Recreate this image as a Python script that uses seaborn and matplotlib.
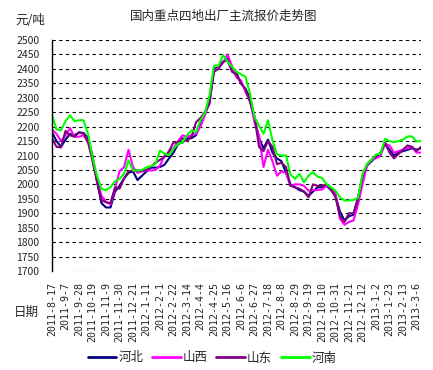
import matplotlib
matplotlib.use("Agg")
import matplotlib.pyplot as plt
import seaborn as sns
import pandas as pd
import numpy as np

# ---------------- data ----------------
series_names = ["河北", "山西", "山东", "河南"]
series_colors = ["#000080", "#FF00FF", "#800080", "#00FF00"]

hebei = [2180, 2150, 2130, 2155, 2175, 2170, 2180, 2178, 2160, 2100, 2010, 1935, 1920, 1920, 1975, 1995, 2020, 2040, 2045, 2015, 2030,
         2045, 2058, 2058, 2060, 2068, 2090, 2110, 2140, 2145, 2160, 2160, 2170, 2210, 2245, 2280, 2400, 2405, 2425, 2435, 2400, 2385, 2350,
         2330, 2300, 2230, 2160, 2125, 2155, 2110, 2090, 2080, 2040, 2000, 1990, 1980, 1975, 1960, 1975, 1990, 1990, 1995, 1980, 1960,
         1905, 1875, 1890, 1895, 1955, 2020, 2065, 2080, 2095, 2110, 2140, 2120, 2100, 2110, 2115, 2120, 2125, 2120, 2125]
shanxi = [2190, 2175, 2150, 2170, 2195, 2165, 2165, 2170, 2145, 2090, 2015, 1960, 1940, 1930, 1985, 2045, 2060, 2120, 2060, 2040, 2045,
          2048, 2048, 2050, 2065, 2100, 2110, 2125, 2150, 2170, 2165, 2170, 2175, 2200, 2240, 2290, 2390, 2405, 2420, 2450, 2410, 2370, 2360,
          2320, 2290, 2215, 2170, 2060, 2120, 2080, 2030, 2045, 2040, 1995, 2000, 2000, 1995, 1978, 1980, 1980, 1982, 1995, 1985, 1970,
          1880, 1860, 1870, 1875, 1930, 2000, 2065, 2085, 2090, 2100, 2140, 2135, 2110, 2115, 2120, 2125, 2130, 2110, 2110]
shandong = [2160, 2130, 2128, 2185, 2170, 2165, 2180, 2175, 2150, 2080, 2010, 1945, 1938, 1935, 1990, 1985, 2020, 2045, 2048, 2048, 2048,
            2050, 2062, 2075, 2085, 2095, 2115, 2145, 2145, 2160, 2150, 2165, 2215, 2230, 2250, 2290, 2390, 2400, 2425, 2430, 2390, 2380, 2350,
            2330, 2285, 2235, 2130, 2115, 2150, 2130, 2070, 2075, 2060, 1995, 1990, 1985, 1975, 1955, 2000, 1995, 1995, 2000, 1985, 1955,
            1890, 1870, 1900, 1900, 1950, 2030, 2070, 2085, 2100, 2105, 2145, 2110, 2090, 2105, 2120, 2135, 2130, 2115, 2130]
henan = [2240, 2190, 2187, 2219, 2239, 2219, 2222, 2222, 2175, 2094, 2030, 1984, 1980, 1990, 2011, 2019, 2036, 2083, 2048, 2048, 2050,
         2059, 2063, 2071, 2117, 2106, 2102, 2123, 2141, 2146, 2170, 2187, 2181, 2222, 2248, 2309, 2411, 2411, 2448, 2425, 2407, 2390, 2381,
         2373, 2314, 2233, 2204, 2175, 2222, 2152, 2104, 2100, 2100, 2034, 2019, 2036, 2007, 2030, 2042, 2027, 2022, 2001, 1990, 1978,
         1955, 1944, 1944, 1946, 1953, 2036, 2071, 2085, 2104, 2106, 2158, 2150, 2146, 2150, 2155, 2166, 2166, 2149, 2150]

tick_labels = ["2011-8-17", "2011-9-7", "2011-9-28", "2011-10-19", "2011-11-9", "2011-11-30", "2011-12-21",
               "2012-1-11", "2012-2-1", "2012-2-22", "2012-3-14", "2012-4-4", "2012-4-25", "2012-5-16",
               "2012-6-6", "2012-6-27", "2012-7-18", "2012-8-8", "2012-8-29", "2012-9-19", "2012-10-10",
               "2012-10-31", "2012-11-21", "2012-12-12", "2013-1-2", "2013-1-23", "2013-2-13", "2013-3-6"]
y_ticks = list(range(1700, 2501, 50))

title = "国内重点四地出厂主流报价走势图"
y_unit = "元/吨"
x_name = "日期"

# ---------------- build long table ----------------
week = np.arange(len(hebei))
frames = []
for name, vals in zip(series_names, [hebei, shanxi, shandong, henan]):
    frames.append(pd.DataFrame({"week": week, "price": vals, "region": name}))
df = pd.concat(frames, ignore_index=True)

# ---------------- figure ----------------
sns.set_style("white")
plt.rcParams["font.family"] = ["Noto Sans CJK SC", "DejaVu Sans"]

W, H = 433, 370
fig = plt.figure(figsize=(W / 100, H / 100), dpi=100)
left, right, top, bottom = 52, 421, 40, 271
ax = fig.add_axes([left / W, 1 - bottom / H, (right - left) / W, (bottom - top) / H])

sns.lineplot(data=df, x="week", y="price", hue="region", hue_order=series_names,
             palette=series_colors, linewidth=1.5, ax=ax, legend=True, estimator=None)

ax.set_xlim(0, len(hebei) - 1)
ax.set_ylim(1700, 2500)
ax.set_yticks(y_ticks)
ax.set_yticklabels([str(v) for v in y_ticks], fontsize=7.5)
ax.set_xticks(np.arange(0, 3 * len(tick_labels), 3))
ax.set_xticklabels(tick_labels, rotation=90, fontsize=7.2, va="top", ha="center",
                   family="DejaVu Sans Mono")
ax.tick_params(axis="both", length=0)
ax.tick_params(axis="y", pad=9)
ax.tick_params(axis="x", pad=8)
ax.set_xlabel("")
ax.set_ylabel("")

for v in y_ticks:
    ax.axhline(v, color="black", linewidth=0.8, linestyle=(0, (3, 3)), zorder=0)

for s in ["top", "right", "bottom"]:
    ax.spines[s].set_visible(False)
ax.spines["left"].set_color("black")
ax.spines["left"].set_linewidth(1.0)

handles, labels = ax.get_legend_handles_labels()
ax.get_legend().remove()
leg = fig.legend(handles, labels, loc="center", bbox_to_anchor=(212 / W, 1 - 358 / H),
                 ncol=4, frameon=False, fontsize=9, handlelength=2.3, handletextpad=0.15,
                 columnspacing=0.7)
for l in leg.get_lines():
    l.set_linewidth(2)

fig.text(224 / W, 1 - 16 / H, title, ha="center", va="center", fontsize=9)
fig.text(30 / W, 1 - 20 / H, y_unit, ha="center", va="center", fontsize=9)
fig.text(26 / W, 1 - 312 / H, x_name, ha="center", va="center", fontsize=9)

fig.savefig("out.png", dpi=100)
